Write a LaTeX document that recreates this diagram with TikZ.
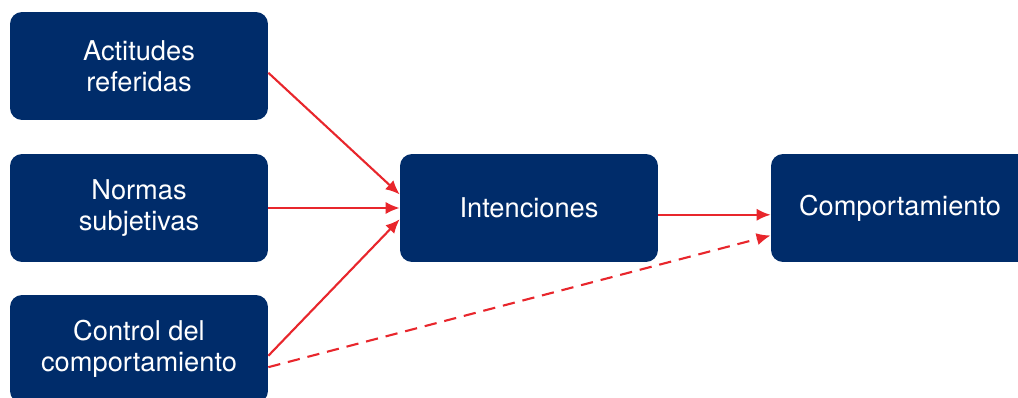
\documentclass[tikz,border=0pt]{standalone}
\usepackage{fontspec}
\setmainfont{TeX Gyre Heros}
\usetikzlibrary{arrows.meta}
\definecolor{navy}{RGB}{0,44,106}
\definecolor{arrowred}{RGB}{232,38,44}
\tikzset{
    factor/.style={draw=none, fill=navy, rounded corners=0.24cm, text=white,
        minimum width=5.16cm, minimum height=2.16cm, align=center,
        font=\fontsize{15.5}{17.5}\selectfont},
    link/.style={->, draw=arrowred, line width=1.2pt}
}
\begin{document}
\begin{tikzpicture}[x=0.02cm, y=-0.02cm, >={Latex[length=8pt,width=7pt]}]

    \useasboundingbox (0,0) rectangle (1018,398);

    % Nodes for the left column
    \node at (139, 66) (act) [factor] {Actitudes\\referidas};
    \node at (139, 208) (norm) [factor] {Normas\\subjetivas};
    \node at (139, 349) (ctrl) [factor] {Control del\\comportamiento};

    % Nodes for the right side
    \node at (529, 208) (int) [factor] {Intenciones};
    \node at (900, 208) (comp) [factor] {Comportamiento};

    % Arrows into the intentions
    \draw[link] (act.-3) -- (int.174);
    \draw[link] (norm.east) -- (int.west);
    \draw[link] (ctrl.-3) -- (int.185);

    % Arrows into the behaviour
    \draw[link] (int.-3) -- (comp.183);
    \draw[link, dash pattern=on 7pt off 4.5pt] (ctrl.-8) -- (comp.192);

\end{tikzpicture}
\end{document}
